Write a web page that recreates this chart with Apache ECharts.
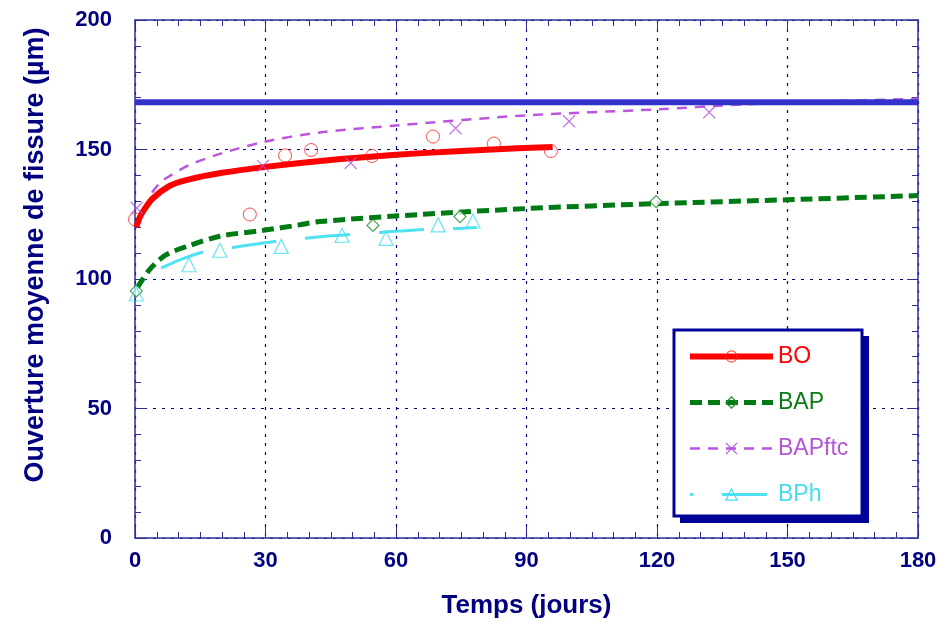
<!DOCTYPE html>
<html>
<head>
<meta charset="utf-8">
<script src="https://cdn.jsdelivr.net/npm/echarts@6/dist/echarts.min.js"></script>
<style>
  html, body { margin: 0; padding: 0; background: #fff; }
  #chart { width: 950px; height: 624px; }
</style>
</head>
<body>
<div id="chart"></div>
<script>
// fitted curves
const bo_days = [0.3, 1, 2, 4, 8, 12, 20, 30, 42, 54, 66, 82, 96];
const bo_fit = [120, 123.5, 126.5, 131, 136, 138.3, 141, 143.3, 145.5, 147.2, 148.6, 150.0, 151.0];
const bap_days = [0.5, 3.3, 7, 12, 19.5, 29.5, 37.5, 42.5, 65.5, 90, 120, 150, 180];
const bap_fit = [96.5, 103.5, 109.2, 112.6, 116.5, 118.8, 120.8, 122.2, 124.9, 127.2, 129.1, 130.6, 132.2];
const ftc_days = [0.7, 2.5, 4, 6, 8, 12.5, 19.5, 29.5, 42.5, 61, 90, 120, 140, 160, 180];
const ftc_fit = [120.5, 128, 133.5, 137.5, 139.8, 144, 148.3, 152.9, 156.6, 159.4, 163.2, 165.5, 167.4, 168.6, 169.6];
const bph_days = [6, 10.3, 16.3, 23, 33.3, 45, 50, 56.8, 67, 73.6, 78.5];
const bph_fit = [104.2, 107.4, 110.7, 112.3, 114.7, 116.7, 117.2, 118, 119.2, 119.5, 119.9];

// measured points
const bo_pt_days = [0, 26.4, 34.5, 40.5, 54.5, 68.5, 82.5, 95.6];
const bo_pts = [123, 124.9, 147.7, 149.8, 147.5, 155, 152.3, 149.4];
const bap_pt_days = [0.3, 54.7, 74.7, 119.8];
const bap_pts = [95.4, 120.7, 124.1, 129.9];
const ftc_pt_days = [0.4, 29.4, 49.6, 73.7, 99.8, 132];
const ftc_pts = [127.4, 143.7, 144.8, 158.2, 160.9, 164.4];
const bph_pt_days = [0.3, 12.4, 19.5, 33.6, 47.6, 57.7, 69.7, 77.7];
const bph_pts = [94.2, 105.5, 111.1, 112.6, 116.9, 115.7, 120.9, 122.4];

// limit line
const limit_days = [0, 180];
const limit_val = [168.2, 168.2];

const x_ticks = [0, 30, 60, 90, 120, 150, 180];
const y_ticks = [0, 50, 100, 150, 200];

const navy = "#000080";
const frame = "#2e2e99";
const font = "'Liberation Sans', Arial, sans-serif";
const cross = "path://M0,0L10,10M10,0L0,10";

const zip = (xs, ys) => xs.map((x, i) => [x, ys[i]]);

const chart = echarts.init(document.getElementById("chart"));

function baseX(pos, main) {
  return {
    type: "value",
    position: pos,
    min: x_ticks[0],
    max: x_ticks[x_ticks.length - 1],
    interval: 30,
    axisLine: { show: true, onZero: false, lineStyle: { color: frame, width: 1.5 } },
    axisTick: { show: true, inside: true, length: 11, lineStyle: { color: frame, width: 1 } },
    minorTick: { show: true, splitNumber: 6, length: 6, lineStyle: { color: frame, width: 1 } },
    splitLine: main
      ? { show: true, lineStyle: { color: navy, type: [3, 6], width: 1.2 } }
      : { show: false },
    axisLabel: main
      ? { show: true, color: navy, fontFamily: font, fontWeight: "bold", fontSize: 22, margin: 12 }
      : { show: false },
  };
}

function baseY(pos, main) {
  return {
    type: "value",
    position: pos,
    min: y_ticks[0],
    max: y_ticks[y_ticks.length - 1],
    interval: 50,
    axisLine: { show: true, onZero: false, lineStyle: { color: frame, width: 1.5 } },
    axisTick: { show: true, inside: true, length: 11, lineStyle: { color: frame, width: 1 } },
    minorTick: { show: true, splitNumber: 5, length: 6, lineStyle: { color: frame, width: 1 } },
    splitLine: main
      ? { show: true, lineStyle: { color: navy, type: [3, 6], width: 1.2 } }
      : { show: false },
    axisLabel: main
      ? { show: true, color: navy, fontFamily: font, fontWeight: "bold", fontSize: 22, margin: 23 }
      : { show: false },
  };
}

const xMain = baseX("bottom", true);
xMain.name = "Temps (jours)";
xMain.nameLocation = "middle";
xMain.nameGap = 55;
xMain.nameTextStyle = { color: navy, fontFamily: font, fontWeight: "bold", fontSize: 26 };

const yMain = baseY("left", true);
yMain.name = "Ouverture moyenne de fissure (µm)";
yMain.nameLocation = "middle";
yMain.nameGap = 86;
yMain.nameTextStyle = { color: navy, fontFamily: font, fontWeight: "bold", fontSize: 27, padding: [0, 0, 0, 48] };

chart.setOption({
  backgroundColor: "#fff",
  animation: false,
  grid: { left: 135, top: 20, right: 32, bottom: 82, containLabel: false },
  xAxis: [xMain, baseX("top", false)],
  yAxis: [yMain, baseY("right", false)],
  graphic: [
    { type: "rect", z: 1, shape: { x: 680, y: 336, width: 189, height: 187 }, style: { fill: "#000099" } },
    { type: "rect", z: 2, shape: { x: 674, y: 330, width: 188, height: 186 },
      style: { fill: "#fff", stroke: "#000099", lineWidth: 3 } },
  ],
  legend: {
    orient: "vertical",
    left: 687,
    top: 345,
    padding: 0,
    itemWidth: 83,
    itemHeight: 14,
    itemGap: 23,
    z: 10,
    selectedMode: false,
    textStyle: { fontFamily: font, fontSize: 23, lineHeight: 20 },
    data: [
      { name: "BO", textStyle: { color: "#ff0000" }, lineStyle: { width: 6 },
        itemStyle: { color: "none", borderColor: "#ff2020", borderWidth: 1 } },
      { name: "BAP", textStyle: { color: "#0a7a16" }, lineStyle: { width: 5 },
        itemStyle: { color: "none", borderColor: "#1a8a2a", borderWidth: 1.2 } },
      { name: "BAPftc", textStyle: { color: "#b455d8" }, lineStyle: { width: 2.5 },
        itemStyle: { color: "none", borderColor: "#b455d8", borderWidth: 1.2 } },
      { name: "BPh", textStyle: { color: "#44ddf0" }, lineStyle: { width: 3, dashOffset: 42 },
        itemStyle: { color: "none", borderColor: "#44ddf0", borderWidth: 1.2 } },
    ],
  },
  series: [
    {
      name: "BAP", type: "line", smooth: 0.3, showSymbol: false, symbol: "diamond",
      data: zip(bap_days, bap_fit), z: 3,
      lineStyle: { color: "#007a12", width: 5, type: [12, 6] },
      itemStyle: { color: "#007a12" },
    },
    {
      name: "BPh", type: "line", smooth: 0.3, showSymbol: false, symbol: "triangle",
      data: zip(bph_days, bph_fit), z: 3,
      lineStyle: { color: "#4fe2f2", width: 3, type: [45, 29] },
      itemStyle: { color: "#4fe2f2" },
    },
    {
      name: "BAPftc", type: "line", smooth: 0.3, showSymbol: false, symbol: cross,
      data: zip(ftc_days, ftc_fit), z: 3,
      lineStyle: { color: "#bb55dd", width: 2.5, type: [10, 8] },
      itemStyle: { color: "#bb55dd" },
    },
    {
      name: "BO", type: "line", smooth: 0.3, showSymbol: false, symbol: "circle",
      data: zip(bo_days, bo_fit), z: 4,
      lineStyle: { color: "#ff0000", width: 6 },
      itemStyle: { color: "#ff0000" },
    },
    {
      name: "BO pts", type: "scatter", symbol: "circle", symbolSize: 13, z: 5,
      data: zip(bo_pt_days, bo_pts),
      itemStyle: { color: "rgba(255,255,255,0)", borderColor: "#ff2020", borderWidth: 1 },
    },
    {
      name: "BAP pts", type: "scatter", symbol: "diamond", symbolSize: 12, z: 5,
      data: zip(bap_pt_days, bap_pts),
      itemStyle: { color: "#fff", borderColor: "#1a8a2a", borderWidth: 1.2 },
    },
    {
      name: "BAPftc pts", type: "scatter", symbol: cross, symbolSize: 12, z: 5,
      data: zip(ftc_pt_days, ftc_pts),
      itemStyle: { color: "none", borderColor: "#b455d8", borderWidth: 1.2 },
    },
    {
      name: "BPh pts", type: "scatter", symbol: "triangle", symbolSize: 14, z: 5,
      data: zip(bph_pt_days, bph_pts),
      itemStyle: { color: "rgba(255,255,255,0)", borderColor: "#44ddf0", borderWidth: 1.2 },
    },
    {
      name: "limite", type: "line", showSymbol: false, symbol: "none", z: 6,
      data: zip(limit_days, limit_val),
      lineStyle: { color: "#3333cc", width: 6 },
    },
  ],
});
</script>
</body>
</html>
